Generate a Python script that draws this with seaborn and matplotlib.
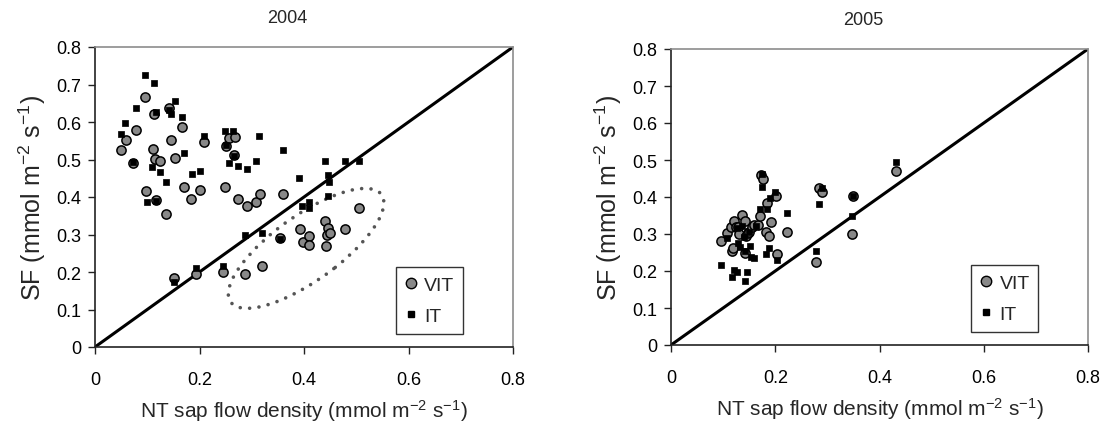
import matplotlib
matplotlib.use("Agg")
import matplotlib.pyplot as plt
from matplotlib.lines import Line2D
from matplotlib.patches import Ellipse
import pandas as pd
import seaborn as sns

# ---- 2004 ----
vit04_x = [0.050, 0.059, 0.078, 0.096, 0.073, 0.098, 0.111, 0.113, 0.114, 0.125,
           0.116, 0.136, 0.142, 0.145, 0.153, 0.167, 0.171, 0.184, 0.201, 0.208,
           0.248, 0.251, 0.256, 0.268, 0.266, 0.273, 0.290, 0.308, 0.315, 0.360,
           0.152, 0.193, 0.245, 0.288, 0.320, 0.355, 0.392, 0.398, 0.409, 0.409,
           0.440, 0.445, 0.444, 0.449, 0.442, 0.478, 0.506]
vit04_y = [0.526, 0.551, 0.580, 0.666, 0.491, 0.415, 0.529, 0.621, 0.502, 0.496,
           0.392, 0.354, 0.638, 0.551, 0.504, 0.587, 0.426, 0.396, 0.420, 0.546,
           0.426, 0.537, 0.557, 0.559, 0.511, 0.396, 0.375, 0.387, 0.408, 0.408,
           0.185, 0.196, 0.199, 0.196, 0.216, 0.291, 0.316, 0.280, 0.297, 0.273,
           0.337, 0.318, 0.300, 0.303, 0.270, 0.316, 0.370]
it04_x = [0.050, 0.058, 0.078, 0.096, 0.113, 0.116, 0.099, 0.110, 0.124, 0.135,
          0.142, 0.145, 0.153, 0.167, 0.171, 0.186, 0.201, 0.208, 0.248, 0.256,
          0.265, 0.266, 0.273, 0.290, 0.308, 0.314, 0.360, 0.391, 0.073, 0.116,
          0.151, 0.193, 0.245, 0.287, 0.320, 0.355, 0.397, 0.409, 0.409, 0.440,
          0.445, 0.447, 0.445, 0.478, 0.506, 0.251]
it04_y = [0.567, 0.597, 0.638, 0.726, 0.705, 0.626, 0.388, 0.479, 0.467, 0.441,
          0.631, 0.622, 0.655, 0.613, 0.517, 0.462, 0.470, 0.564, 0.575, 0.491,
          0.575, 0.510, 0.484, 0.475, 0.495, 0.562, 0.526, 0.450, 0.493, 0.390,
          0.174, 0.212, 0.216, 0.299, 0.303, 0.288, 0.375, 0.387, 0.370, 0.495,
          0.459, 0.441, 0.402, 0.495, 0.495, 0.540]

# ---- 2005 ----
vit05_x = [0.096, 0.107, 0.115, 0.121, 0.124, 0.129, 0.131, 0.136, 0.142, 0.144,
           0.147, 0.150, 0.155, 0.160, 0.166, 0.171, 0.172, 0.177, 0.182, 0.185,
           0.188, 0.191, 0.201, 0.203, 0.222, 0.117, 0.118, 0.142, 0.278, 0.283,
           0.290, 0.347, 0.350, 0.431]
vit05_y = [0.280, 0.302, 0.320, 0.336, 0.318, 0.318, 0.300, 0.352, 0.336, 0.294,
           0.302, 0.305, 0.318, 0.325, 0.324, 0.348, 0.460, 0.449, 0.306, 0.384,
           0.294, 0.332, 0.404, 0.246, 0.305, 0.253, 0.261, 0.250, 0.223, 0.424,
           0.414, 0.300, 0.402, 0.471]
it05_x = [0.096, 0.108, 0.117, 0.120, 0.126, 0.129, 0.132, 0.136, 0.140, 0.142,
          0.145, 0.150, 0.151, 0.153, 0.160, 0.164, 0.171, 0.174, 0.174, 0.182,
          0.185, 0.188, 0.190, 0.200, 0.203, 0.222, 0.278, 0.283, 0.290, 0.347,
          0.350, 0.431, 0.126, 0.142]
it05_y = [0.217, 0.288, 0.183, 0.204, 0.196, 0.277, 0.264, 0.322, 0.291, 0.174,
          0.198, 0.305, 0.267, 0.237, 0.234, 0.322, 0.368, 0.462, 0.428, 0.246,
          0.368, 0.262, 0.397, 0.414, 0.230, 0.356, 0.255, 0.381, 0.423, 0.348,
          0.404, 0.495, 0.317, 0.253]

panels = [("2004", vit04_x, vit04_y, it04_x, it04_y),
          ("2005", vit05_x, vit05_y, it05_x, it05_y)]

x_ticks = [0, 0.2, 0.4, 0.6, 0.8]
y_ticks = [0, 0.1, 0.2, 0.3, 0.4, 0.5, 0.6, 0.7, 0.8]

sns.set_style("ticks")
plt.rcParams["font.family"] = ["Liberation Sans", "DejaVu Sans"]
plt.rcParams["mathtext.default"] = "regular"

fig = plt.figure(figsize=(11.07, 4.39), dpi=100)
axes = [fig.add_axes([95 / 1107, 91 / 439, 418 / 1107, 300 / 439]),
        fig.add_axes([671 / 1107, 93 / 439, 417 / 1107, 296 / 439])]

unit = " (mmol m$^{-2}$ s$^{-1}$)"

for ax, (year, vx, vy, ix, iy) in zip(axes, panels):
    vit = pd.DataFrame({"NT": vx, "SF": vy})
    it = pd.DataFrame({"NT": ix, "SF": iy})

    ax.axline((0, 0), slope=1, color="black", lw=2.2, zorder=1)
    sns.scatterplot(data=vit, x="NT", y="SF", ax=ax, marker="o", s=44,
                    color="#888888", edgecolor="black", linewidth=1.1,
                    legend=False, zorder=3)
    sns.scatterplot(data=it, x="NT", y="SF", ax=ax, marker="s", s=20,
                    color="black", edgecolor="black", linewidth=0.5,
                    legend=False, zorder=4)

    ax.set_xlim(0, 0.8)
    ax.set_ylim(0, 0.8)
    ax.set_xticks(x_ticks)
    ax.set_xticklabels([f"{v:g}" for v in x_ticks])
    ax.set_yticks(y_ticks)
    ax.set_yticklabels([f"{v:g}" for v in y_ticks])
    ax.tick_params(axis="both", direction="out", length=5, width=1,
                   color="#222222", labelsize=13, labelcolor="black")
    ax.tick_params(axis="x", pad=12)
    ax.tick_params(axis="y", pad=5)

    for side in ["left", "bottom"]:
        ax.spines[side].set_color("#222222")
        ax.spines[side].set_linewidth(1.2)
    for side in ["top", "right"]:
        ax.spines[side].set_color("#8c8c8c")
        ax.spines[side].set_linewidth(1.2)

    ax.set_xlabel("NT sap flow density" + unit, fontsize=15, labelpad=7)
    ax.set_ylabel("SF" + unit, fontsize=18, labelpad=6)
    ax.set_title(year, fontsize=13, pad=18, x=0.46)

    handles = [Line2D([], [], ls="none", marker="o", ms=7.5, mfc="#888888",
                      mec="black", mew=1),
               Line2D([], [], ls="none", marker="s", ms=5, mfc="black",
                      mec="black")]
    leg = ax.legend(handles, ["VIT", "IT"], loc="lower left",
                    bbox_to_anchor=(0.72, 0.045), fontsize=14, frameon=True,
                    fancybox=False, edgecolor="#333333", framealpha=1,
                    handlelength=0.6, handletextpad=0.4, borderpad=0.45,
                    labelspacing=0.7, borderaxespad=0)
    leg.get_frame().set_linewidth(1)

# dotted ellipse around the 2004 cluster below the 1:1 line
ell = Ellipse((0.404, 0.263), width=0.410, height=0.151, angle=47.7,
              fill=False, edgecolor="#555555", linewidth=2.6,
              linestyle=(0, (0.01, 2.6)), zorder=2)
ell.set_capstyle("round")
axes[0].add_patch(ell)

fig.savefig("out.png", dpi=100)
